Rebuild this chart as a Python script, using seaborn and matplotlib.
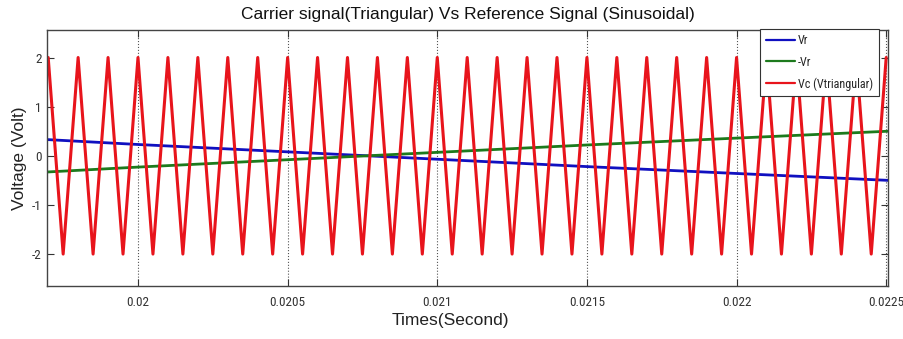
import numpy as np
import pandas as pd
import matplotlib
matplotlib.use("Agg")
import matplotlib.pyplot as plt
from matplotlib import font_manager
import seaborn as sns

# ---- data ----
carrier_t = [0.01970, 0.01975, 0.01980, 0.01985, 0.01990, 0.01995, 0.02000, 0.02005,
             0.02010, 0.02015, 0.02020, 0.02025, 0.02030, 0.02035, 0.02040, 0.02045,
             0.02050, 0.02055, 0.02060, 0.02065, 0.02070, 0.02075, 0.02080, 0.02085,
             0.02090, 0.02095, 0.02100, 0.02105, 0.02110, 0.02115, 0.02120, 0.02125,
             0.02130, 0.02135, 0.02140, 0.02145, 0.02150, 0.02155, 0.02160, 0.02165,
             0.02170, 0.02175, 0.02180, 0.02185, 0.02190, 0.02195, 0.02200, 0.02205,
             0.02210, 0.02215, 0.02220, 0.02225, 0.02230, 0.02235, 0.02240, 0.02245,
             0.02250]
carrier_v = [2, -2, 2, -2, 2, -2, 2, -2, 2, -2, 2, -2, 2, -2, 2, -2, 2, -2, 2, -2,
             2, -2, 2, -2, 2, -2, 2, -2, 2, -2, 2, -2, 2, -2, 2, -2, 2, -2, 2, -2,
             2, -2, 2, -2, 2, -2, 2, -2, 2, -2, 2, -2, 2, -2, 2, -2, 2]

ref_t = [0.019696, 0.0200, 0.0205, 0.0210, 0.0215, 0.0220, 0.022506]
vr = [0.33, 0.23, 0.08, -0.07, -0.22, -0.36, -0.50]
neg_vr = [-0.33, -0.23, -0.08, 0.07, 0.22, 0.36, 0.50]

xticks = [0.02, 0.0205, 0.021, 0.0215, 0.022, 0.0225]
xtick_labels = ["0.02", "0.0205", "0.021", "0.0215", "0.022", "0.0225"]
yticks = [-2, -1, 0, 1, 2]
ytick_labels = ["-2", "-1", "0", "1", "2"]

title = "Carrier signal(Triangular) Vs Reference Signal (Sinusoidal)"
xlabel = "Times(Second)"
ylabel = "Voltage (Volt)"
labels = ["Vr", "-Vr", "Vc (Vtriangular)"]

# ---- pick a narrow font for ticks / legend if one is installed ----
names = sorted({f.name for f in font_manager.fontManager.ttflist})
narrow = None
for cand in ["Liberation Sans Narrow", "DejaVu Sans Condensed", "Roboto Condensed",
             "Open Sans Condensed", "Noto Sans Condensed"]:
    if cand in names:
        narrow = cand
        break
if narrow is None:
    for n in names:
        if "Narrow" in n or "Condensed" in n:
            narrow = n
            break
if narrow is None:
    tick_prop = dict(family=["DejaVu Sans"], stretch="condensed", size=8.5)
    leg_prop = dict(family="DejaVu Sans", stretch="condensed", size=7.5)
else:
    tick_prop = dict(family=[narrow], size=9.5)
    leg_prop = dict(family=narrow, size=8.7)

# ---- plotting ----
sns.set_style("white")
plt.rcParams["font.family"] = ["Liberation Sans", "DejaVu Sans"]

fig = plt.figure(figsize=(9.04, 3.39), dpi=100)
ax = fig.add_axes([47 / 904, 1 - 286 / 339, (888 - 47) / 904, (286 - 30) / 339])

ref_df = pd.DataFrame({"t": ref_t, "vr": vr, "nvr": neg_vr})
car_df = pd.DataFrame({"t": carrier_t, "v": carrier_v})

sns.lineplot(data=ref_df, x="t", y="vr", ax=ax, color="#1010c0", lw=2.0,
             label=labels[0], estimator=None, sort=False)
sns.lineplot(data=ref_df, x="t", y="nvr", ax=ax, color="#1d7a1d", lw=2.0,
             label=labels[1], estimator=None, sort=False)
sns.lineplot(data=car_df, x="t", y="v", ax=ax, color="#e8141c", lw=2.2,
             label=labels[2], estimator=None, sort=False)

ax.set_xlim(0.019696, 0.022506)
ax.set_ylim(-2.65, 2.56)
ax.set_xticks(xticks)
ax.set_yticks(yticks)

ax.set_xticklabels(xtick_labels, color="#333333", fontproperties=font_manager.FontProperties(**tick_prop))
ax.set_yticklabels(ytick_labels, color="#333333", fontproperties=font_manager.FontProperties(**tick_prop))
ax.tick_params(axis="x", direction="in", length=5, width=0.8, color="#333333",
               top=True, bottom=True, pad=7)
ax.tick_params(axis="y", direction="in", length=5, width=0.8, color="#333333",
               left=True, right=True, pad=4)

ax.xaxis.grid(True, linestyle=":", color="#555555", lw=0.8)
ax.yaxis.grid(False)
for s in ax.spines.values():
    s.set_color("#444444")
    s.set_linewidth(1.0)

ax.set_title(title, fontsize=12.5, color="#111111", pad=8)
ax.set_xlabel(xlabel, fontsize=12.5, color="#222222")
ax.xaxis.set_label_coords((450 - 47) / 841, -0.105)
ax.set_ylabel(ylabel, fontsize=12.5, color="#222222")
ax.yaxis.set_label_coords(-(47 - 27) / 841, 0.5)

leg = ax.legend(loc="upper right", bbox_to_anchor=(0.989, 1.005), borderaxespad=0,
                fancybox=False, framealpha=1, edgecolor="#333333",
                prop=font_manager.FontProperties(**leg_prop),
                handlelength=2.4, labelspacing=0.7, handletextpad=0.3,
                borderpad=0.45)
leg.get_frame().set_linewidth(0.8)
for line in leg.get_lines():
    line.set_linewidth(1.6)

fig.savefig("out.png", dpi=100)
